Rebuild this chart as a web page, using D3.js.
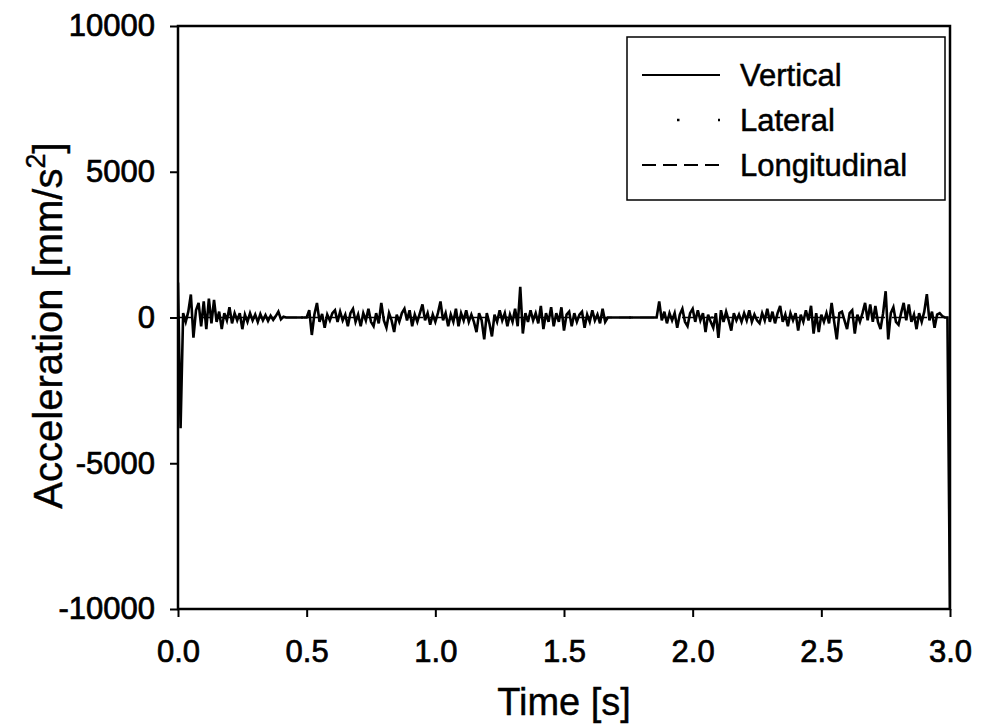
<!DOCTYPE html>
<html>
<head>
<meta charset="utf-8">
<script src="https://cdn.jsdelivr.net/npm/d3@7"></script>
<style>
  body { margin: 0; background: #fff; }
  text { font-family: "Liberation Sans", Arial, sans-serif; fill: #000; }
</style>
</head>
<body>
<div id="chart"></div>
<script>
const dt = 0.01

// vertical acceleration [mm/s^2], one value every 0.01 s, 0.00 .. 3.00 s
const vertical = [
  1200, -3800, 150, -150, 200, 790, -690, 250, 500, -300,
  550, -400, 650, -200, 600, -150, 200, -400, 150, -100,
  350, -200, 150, -100, 150, -400, 100, -150, 150, -100,
  100, -150, 120, -100, 80, -120, 60, -80, 50, 200,
  -60, 30, 0, 0, 0, 0, 0, 0, 0, 0,
  0, 250, -600, 100, 500, -150, 120, -350, 100, -100,
  150, 250, -150, 200, -100, 100, -300, 150, 300, -150,
  100, -300, 150, -100, 300, -150, -300, 150, -200, 500,
  -100, -350, 150, -100, -500, 100, -150, 150, 300, -100,
  250, -300, 100, -150, 150, 450, -100, 150, -250, 100,
  -150, 150, 550, -100, 150, -300, 100, -150, 300, -300,
  150, -100, 250, -150, 100, -150, -500, 150, -100, -750,
  150, -200, -650, 100, -150, 250, -100, 150, -300, 100,
  -150, 300, -300, 1050, -550, 150, -150, 250, -100, 150,
  -200, 400, -400, 150, -150, 350, -300, 150, -150, 350,
  -450, 100, 200, -300, 150, -150, 100, 200, -350, 100,
  -150, 250, -100, 100, -200, 300, -150, 0, 0, 0,
  0, 0, 0, 0, 0, 0, 0, 0, 0, 0,
  0, 0, 0, 0, 0, 0, 0, 550, -100, 200,
  -200, 150, -100, 150, -350, 100, 300, -150, -300, 150,
  300, -150, 250, -100, 150, -500, 100, -150, -350, 150,
  -700, 250, -150, 200, -100, -450, 150, -100, 100, -150,
  150, -100, 250, -150, 100, -100, -200, 150, -100, 300,
  -150, 200, -200, 150, 400, -150, 100, -300, 150, -100,
  150, -450, 100, -150, 250, -100, 400, -550, 150, -500,
  100, -150, 150, -200, 500, -150, -750, 150, 200, -100,
  -400, 150, 250, -550, 100, -150, 150, 500, -100, 450,
  -150, 400, -150, -400, 150, 900, -750, 150, 350, -150,
  -250, 150, 500, -100, 450, -150, 100, -400, 150, -150,
  200, 800, -100, 200, -350, 100, 150, 50, 0, 0,
  -10000
]

// lateral and longitudinal lie on the zero line under the vertical trace (one value every 0.1 s)
const lateral = [
  0, 0, 0, 0, 0, 0, 0, 0, 0, 0,
  0, 0, 0, 0, 0, 0, 0, 0, 0, 0,
  0, 0, 0, 0, 0, 0, 0, 0, 0, 0, 0
]
const longitudinal = [
  0, 0, 0, 0, 0, 0, 0, 0, 0, 0,
  0, 0, 0, 0, 0, 0, 0, 0, 0, 0,
  0, 0, 0, 0, 0, 0, 0, 0, 0, 0, 0
]

const xTicks = [0, 0.5, 1.0, 1.5, 2.0, 2.5, 3.0]
const yTicks = [-10000, -5000, 0, 5000, 10000]
const seriesNames = ["Vertical", "Lateral", "Longitudinal"]

// ----------------------------------------------------------

const width  = 985;
const height = 728;
const margin = {
    top:    26,
    bottom: 119,
    left:   178,
    right:  35
};
const innerW = width - margin.left - margin.right
const innerH = height - margin.top - margin.bottom

const svg = d3.select("#chart")
    .append("svg")
    .attr("width",  width)
    .attr("height", height)

const x = d3.scaleLinear().domain([0, 3]).range([0, innerW])
const y = d3.scaleLinear().domain([-10000, 10000]).range([innerH, 0])

const plot = svg.append("g")
    .attr("transform", `translate(${margin.left}, ${margin.top})`)

plot.append("clipPath").attr("id", "clip")
    .append("rect").attr("width", innerW).attr("height", innerH)

// axes
const xAxis = d3.axisBottom(x).tickValues(xTicks).tickFormat(d3.format(".1f"))
    .tickSize(8).tickSizeOuter(0).tickPadding(23)
const yAxis = d3.axisLeft(y).tickValues(yTicks).tickFormat(d => d)
    .tickSize(8).tickSizeOuter(0).tickPadding(15)

const xg = plot.append("g").attr("transform", `translate(0, ${innerH})`).call(xAxis)
const yg = plot.append("g").call(yAxis)

for (const g of [xg, yg]) {
    g.select(".domain").remove()
    g.selectAll("line").attr("stroke", "#000").attr("stroke-width", 2)
    g.selectAll("text")
        .attr("font-size", 31)
        .attr("fill", "#000")
        .attr("stroke", "#000")
        .attr("stroke-width", 0.7)
        .style("font-family", '"Liberation Sans", Arial, sans-serif')
}

// traces
const line = d3.line().x(d => x(d[0])).y(d => y(d[1]))
const traces = plot.append("g").attr("clip-path", "url(#clip)")

traces.append("path")
    .datum(longitudinal.map((v, i) => [i * 0.1, v]))
    .attr("d", line).attr("fill", "none").attr("stroke", "#000")
    .attr("stroke-width", 1.5).attr("stroke-dasharray", "14,7")

traces.append("path")
    .datum(lateral.map((v, i) => [i * 0.1, v]))
    .attr("d", line).attr("fill", "none").attr("stroke", "#000")
    .attr("stroke-width", 2).attr("stroke-dasharray", "2,39")

traces.append("path")
    .datum(vertical.map((v, i) => [i * dt, v]))
    .attr("d", line).attr("fill", "none").attr("stroke", "#000")
    .attr("stroke-width", 2.6).attr("stroke-linejoin", "miter")

// frame
plot.append("rect")
    .attr("width", innerW).attr("height", innerH)
    .attr("fill", "none").attr("stroke", "#000").attr("stroke-width", 2.5)

// axis titles
svg.append("text")
    .attr("x", margin.left + innerW / 2)
    .attr("y", 715)
    .attr("text-anchor", "middle")
    .attr("font-size", 38)
    .attr("stroke", "#000").attr("stroke-width", 0.4)
    .text("Time [s]")

const yTitle = svg.append("text")
    .attr("transform", `translate(62, ${margin.top + innerH / 2 + 8}) rotate(-90)`)
    .attr("text-anchor", "middle")
    .attr("font-size", 40)
    .attr("stroke", "#000").attr("stroke-width", 0.4)
yTitle.append("tspan").text("Acceleration [mm/s")
yTitle.append("tspan").attr("font-size", 27).attr("dy", -17).text("2")
yTitle.append("tspan").attr("dy", 17).text("]")

// legend
const legend = svg.append("g").attr("transform", "translate(627, 37)")
legend.append("rect")
    .attr("width", 318).attr("height", 163)
    .attr("fill", "#fff").attr("stroke", "#000").attr("stroke-width", 1.5)

const dashes = [null, "2.5,38.5", "14,7"]
seriesNames.forEach((name, i) => {
    const ly = 38 + i * 45
    legend.append("line")
        .attr("x1", 15).attr("x2", 93).attr("y1", ly).attr("y2", ly)
        .attr("stroke", "#000").attr("stroke-width", i === 1 ? 2.5 : 2)
        .attr("stroke-dasharray", dashes[i])
        .attr("stroke-dashoffset", i === 1 ? -35 : 0)
    legend.append("text")
        .attr("x", 113).attr("y", ly + 11)
        .attr("font-size", 31)
        .attr("stroke", "#000").attr("stroke-width", 0.5)
        .text(name)
})
</script>
</body>
</html>
